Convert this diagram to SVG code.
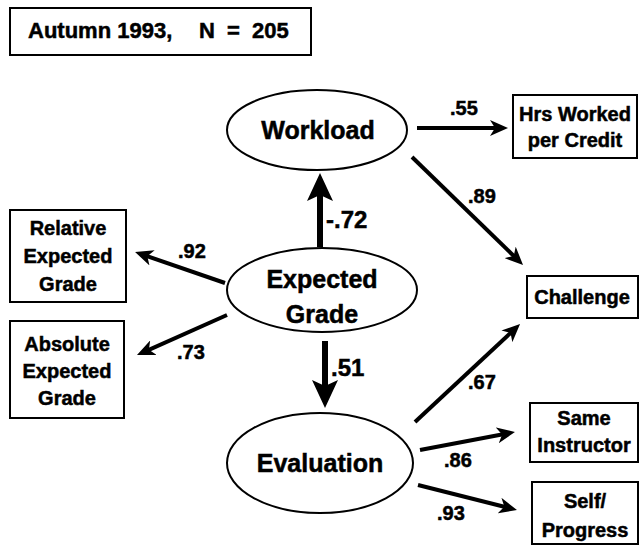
<svg xmlns="http://www.w3.org/2000/svg" width="644" height="546" viewBox="0 0 644 546">
<style>
  text { font-family: "Liberation Sans", Arial, sans-serif; font-weight: bold; fill: #000; stroke: #000; stroke-width: 0.5; text-anchor: middle; }
  .box { fill: #fff; stroke: #000; stroke-width: 2; }
  .ell { fill: #fff; stroke: #000; stroke-width: 2; }
  .bt { font-size: 20px; }
  .et { font-size: 25px; }
  .lbl { font-size: 20px; text-anchor: start; }
  .lblb { font-size: 24px; text-anchor: start; }
  .thin { stroke: #000; stroke-width: 4; fill: none; marker-end: url(#ah); }
  .thick { stroke: #000; stroke-width: 6; fill: none; marker-end: url(#ahb); }
</style>
<defs>
  <marker id="ah" viewBox="0 0 18 16" refX="10" refY="8" markerWidth="18" markerHeight="16" markerUnits="userSpaceOnUse" orient="auto">
    <path d="M0,0 L18,8 L0,16 L5,8 Z" fill="#000"/>
  </marker>
  <marker id="ahb" viewBox="0 0 28 26" refX="16" refY="13" markerWidth="28" markerHeight="26" markerUnits="userSpaceOnUse" orient="auto">
    <path d="M0,0 L28,13 L0,26 L6,13 Z" fill="#000"/>
  </marker>
</defs>
<rect width="644" height="546" fill="#fff"/>

<g id="title">
  <rect class="box" x="10" y="8" width="301" height="47"/>
  <text x="28" y="38" style="font-size:22px; text-anchor:start">Autumn 1993, <tspan x="199" style="word-spacing:6px">N = 205</tspan></text>
</g>

<g id="connectors">
  <line class="thin" x1="417" y1="128" x2="500" y2="128"/>
  <line class="thin" x1="412" y1="157" x2="517.3" y2="259.4"/>
  <line class="thin" x1="225" y1="283" x2="142.6" y2="254.6"/>
  <line class="thin" x1="227" y1="315" x2="144.3" y2="351.8"/>
  <line class="thin" x1="415" y1="422" x2="514.2" y2="329.5"/>
  <line class="thin" x1="420" y1="450" x2="507.1" y2="433.5"/>
  <line class="thin" x1="418" y1="485" x2="509.2" y2="508"/>
  <line class="thick" x1="320" y1="247" x2="320" y2="185"/>
  <line class="thick" x1="325" y1="341" x2="325" y2="396"/>
  <text class="lbl" x="450" y="115">.55</text>
  <text class="lbl" x="468" y="203">.89</text>
  <text class="lbl" x="178" y="258">.92</text>
  <text class="lbl" x="177" y="359">.73</text>
  <text class="lbl" x="468" y="389">.67</text>
  <text class="lbl" x="444" y="467">.86</text>
  <text class="lbl" x="437" y="520">.93</text>
  <text class="lblb" x="326" y="228">-.72</text>
  <text class="lblb" x="331" y="376">.51</text>
</g>

<g id="workload">
  <ellipse class="ell" cx="317" cy="130" rx="90" ry="40"/>
  <text class="et" x="318" y="139">Workload</text>
</g>

<g id="expected-grade">
  <ellipse class="ell" cx="322" cy="290" rx="95" ry="42"/>
  <text class="et" x="322" y="288">Expected</text>
  <text class="et" x="322" y="323">Grade</text>
</g>

<g id="evaluation">
  <ellipse class="ell" cx="320" cy="463" rx="93" ry="50"/>
  <text class="et" x="320" y="472">Evaluation</text>
</g>

<g id="hrs-worked">
  <rect class="box" x="513" y="95" width="124" height="63"/>
  <text class="bt" x="575" y="121">Hrs Worked</text>
  <text class="bt" x="575" y="147">per Credit</text>
</g>

<g id="relative-expected-grade">
  <rect class="box" x="10" y="210" width="116" height="92"/>
  <text class="bt" x="68" y="235">Relative</text>
  <text class="bt" x="68" y="263">Expected</text>
  <text class="bt" x="68" y="291">Grade</text>
</g>

<g id="absolute-expected-grade">
  <rect class="box" x="10" y="321" width="114" height="97"/>
  <text class="bt" x="67" y="351">Absolute</text>
  <text class="bt" x="67" y="378">Expected</text>
  <text class="bt" x="67" y="405">Grade</text>
</g>

<g id="challenge">
  <rect class="box" x="527" y="276" width="111" height="42"/>
  <text class="bt" x="582" y="304">Challenge</text>
</g>

<g id="same-instructor">
  <rect class="box" x="530" y="403" width="108" height="59"/>
  <text class="bt" x="584" y="425">Same</text>
  <text class="bt" x="584" y="452">Instructor</text>
</g>

<g id="self-progress">
  <rect class="box" x="532" y="482" width="106" height="62"/>
  <text class="bt" x="585" y="508">Self/</text>
  <text class="bt" x="585" y="537">Progress</text>
</g>
</svg>
